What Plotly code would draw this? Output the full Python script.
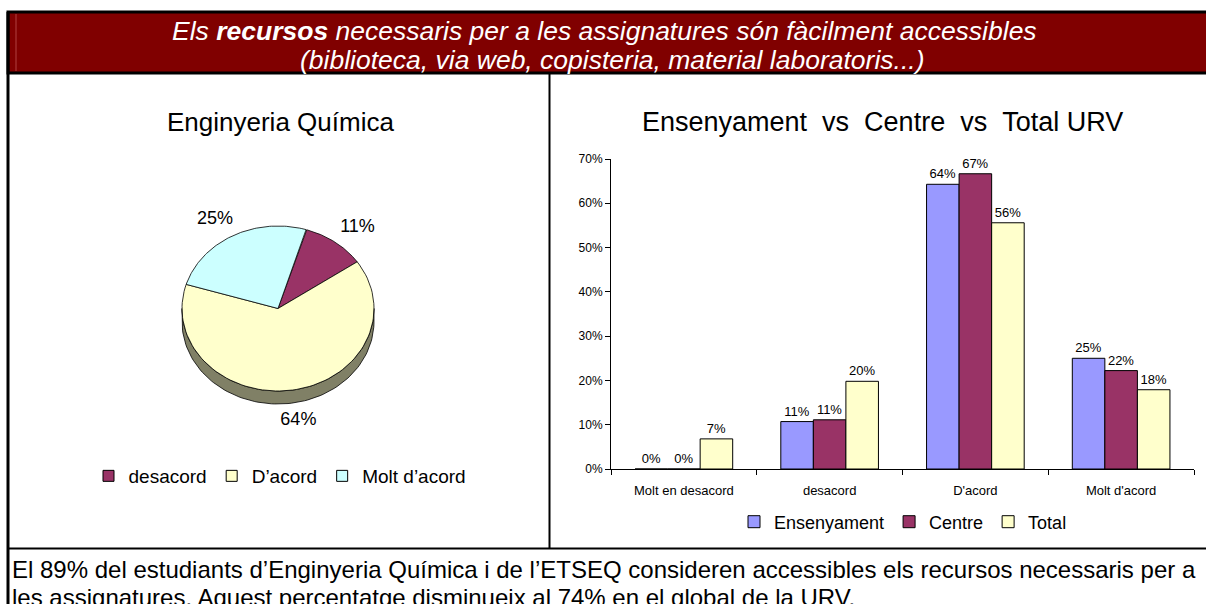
import math
import plotly.graph_objects as go

W, H = 1206, 604
FONT = "Liberation Sans, Arial, sans-serif"

# ---------------- data ----------------
pie_title = "Enginyeria Química"
pie_labels = ["desacord", "D’acord", "Molt d’acord"]
pie_values = [10.71, 64.29, 25.0]
pie_text = ["11%", "64%", "25%"]
pie_colors = ["#993366", "#FFFFCC", "#CCFFFF"]
pie_side_colors = ["#4D1A33", "#808066", "#668080"]

bar_title = "Ensenyament\u00a0\u00a0vs\u00a0\u00a0Centre\u00a0\u00a0vs\u00a0\u00a0Total URV"
categories = ["Molt en desacord", "desacord", "D'acord", "Molt d'acord"]
series_names = ["Ensenyament", "Centre", "Total"]
ensenyament = [0.0, 0.1071, 0.6429, 0.25]
centre = [0.0, 0.1111, 0.6667, 0.2222]
total = [0.068, 0.198, 0.556, 0.179]
bar_colors = ["#9999FF", "#993366", "#FFFFCC"]

header_lines = ["<i>Els <b>recursos</b> necessaris per a les assignatures són fàcilment accessibles</i>",
                "<i>(biblioteca, via web, copisteria, material laboratoris...)</i>"]
footer_lines = ["El 89% del estudiants d’Enginyeria Química i de l’ETSEQ consideren accessibles els recursos necessaris per a",
                "les assignatures. Aquest percentatge disminueix al 74% en el global de la URV."]


def px(x):
    return x / W


def py(y):
    return 1 - y / H


fig = go.Figure()

# ---------------- 3D-ish pie (pixel-space axes) ----------------
cx, cy, rx, ry, depth, start = 278, 308.5, 96, 82.5, 13, 73.0
tot = sum(pie_values)
spans = []
a = start
for v in pie_values:
    s = v / tot * 360
    spans.append((a, a - s))
    a -= s


def arc(t0, t1, dy=0, n=90):
    xs, ys = [], []
    for i in range(n + 1):
        t = math.radians(t0 + (t1 - t0) * i / n)
        xs.append(cx + rx * math.cos(t))
        ys.append(cy - ry * math.sin(t) + dy)
    return xs, ys


# side walls (lower half only)
for (a0, a1), col in zip(spans, pie_side_colors):
    for k in (-1, 0, 1):
        lo, hi = -180 + 360 * k, 0 + 360 * k
        s0, s1 = min(a0, hi), max(a1, lo)
        if s0 > s1:
            xt, yt = arc(s0, s1)
            xb, yb = arc(s1, s0, depth)
            fig.add_trace(go.Scatter(x=xt + xb + [xt[0]], y=yt + yb + [yt[0]], mode="lines",
                                     fill="toself", fillcolor=col,
                                     line=dict(color="black", width=0.8),
                                     showlegend=False, hoverinfo="skip", xaxis="x", yaxis="y"))

# top faces
for (a0, a1), col in zip(spans, pie_colors):
    xa, ya = arc(a0, a1)
    fig.add_trace(go.Scatter(x=[cx] + xa + [cx], y=[cy] + ya + [cy], mode="lines",
                             fill="toself", fillcolor=col,
                             line=dict(color="black", width=0.8),
                             showlegend=False, hoverinfo="skip", xaxis="x", yaxis="y"))

# labels
lx, ly = [], []
for (a0, a1) in spans:
    m = math.radians((a0 + a1) / 2)
    x = cx + rx * 1.4 * math.cos(m)
    y = cy - ry * 1.22 * math.sin(m)
    if math.sin(m) < 0:
        y += depth
    lx.append(x)
    ly.append(y)
fig.add_trace(go.Scatter(x=lx, y=ly, mode="text", text=pie_text,
                         textfont=dict(size=18, color="black", family=FONT),
                         showlegend=False, hoverinfo="skip", xaxis="x", yaxis="y"))

# pie legend entries
for lab, col in zip(pie_labels, pie_colors):
    fig.add_trace(go.Scatter(x=[None], y=[None], mode="markers", name=lab,
                             marker=dict(symbol="square", size=11, color=col,
                                         line=dict(color="black", width=1)),
                             xaxis="x", yaxis="y", legend="legend"))

# ---------------- grouped bars ----------------
for name, vals, col in zip(series_names, [ensenyament, centre, total], bar_colors):
    fig.add_trace(go.Bar(x=categories, y=vals, name=name,
                         marker=dict(color=col, line=dict(color="black", width=1)),
                         text=[f"{v:.0%}" for v in vals], textposition="outside",
                         constraintext="none", cliponaxis=False,
                         textfont=dict(size=13, color="black", family=FONT),
                         xaxis="x2", yaxis="y2", legend="legend2"))

# ---------------- frame shapes ----------------
shapes = [
    dict(type="rect", xref="paper", yref="paper", x0=px(8), x1=px(1215), y0=py(73), y1=py(12),
         fillcolor="#800000", line=dict(color="black", width=3), layer="below"),
    dict(type="line", xref="paper", yref="paper", x0=px(16), x1=px(16), y0=py(71), y1=py(14),
         line=dict(color="#B04040", width=1)),
    dict(type="line", xref="paper", yref="paper", x0=px(8), x1=px(8), y0=py(12), y1=py(610),
         line=dict(color="black", width=3)),
    dict(type="line", xref="paper", yref="paper", x0=px(549.5), x1=px(549.5), y0=py(73), y1=py(548.5),
         line=dict(color="black", width=2)),
    dict(type="line", xref="paper", yref="paper", x0=px(8), x1=px(1215), y0=py(548.5), y1=py(548.5),
         line=dict(color="black", width=2)),
]

annotations = [
    dict(text=header_lines[0], x=px(604), y=py(31), font=dict(size=26.5, color="white", family=FONT)),
    dict(text=header_lines[1], x=px(612), y=py(60), font=dict(size=26.5, color="white", family=FONT)),
    dict(text=pie_title, x=px(280), y=py(122), font=dict(size=26, color="black", family=FONT)),
    dict(text=bar_title, x=px(882), y=py(122), font=dict(size=27, color="black", family=FONT)),
    dict(text=footer_lines[0], x=px(10), y=py(569), xanchor="left",
         font=dict(size=24, color="black", family=FONT)),
    dict(text=footer_lines[1], x=px(10), y=py(597), xanchor="left",
         font=dict(size=24, color="black", family=FONT)),
]
for an in annotations:
    an.setdefault("xanchor", "center")
    an.update(yanchor="middle", xref="paper", yref="paper", showarrow=False)

fig.update_layout(
    width=W, height=H, margin=dict(l=0, r=0, t=0, b=0, pad=0, autoexpand=False), autosize=False,
    paper_bgcolor="white", plot_bgcolor="rgba(0,0,0,0)",
    font=dict(family=FONT, color="black"),
    shapes=shapes, annotations=annotations,
    barmode="group", bargap=0.33, bargroupgap=0,
    xaxis=dict(domain=[0, 1], range=[0, W], visible=False, fixedrange=True),
    yaxis=dict(domain=[0, 1], range=[H, 0], visible=False, fixedrange=True),
    xaxis2=dict(domain=[px(611), px(1194)], anchor="y2", showline=True, linecolor="black",
                linewidth=1, ticks="outside", tickson="boundaries", ticklen=5, tickcolor="black",
                ticklabelstandoff=9,
                tickfont=dict(size=13, family=FONT), showgrid=False, fixedrange=True),
    yaxis2=dict(domain=[py(469), py(159)], anchor="x2", range=[0, 0.7], dtick=0.1,
                tickformat=".0%", showline=True, linecolor="black", linewidth=1,
                ticks="outside", ticklen=5, tickcolor="black", showgrid=False, zeroline=False,
                tickfont=dict(size=12, family=FONT), fixedrange=True),
    legend=dict(orientation="h", x=px(280), y=py(476), xanchor="center", yanchor="middle",
                font=dict(size=19, family=FONT), itemwidth=30, bgcolor="rgba(0,0,0,0)"),
    legend2=dict(orientation="h", x=px(903), y=py(522), xanchor="center", yanchor="middle",
                 font=dict(size=18, family=FONT), itemwidth=30, bgcolor="rgba(0,0,0,0)"),
)

fig.write_html("out.html", config={"displayModeBar": False},
               post_script="document.body.style.margin='0';document.body.style.overflow='hidden';")
